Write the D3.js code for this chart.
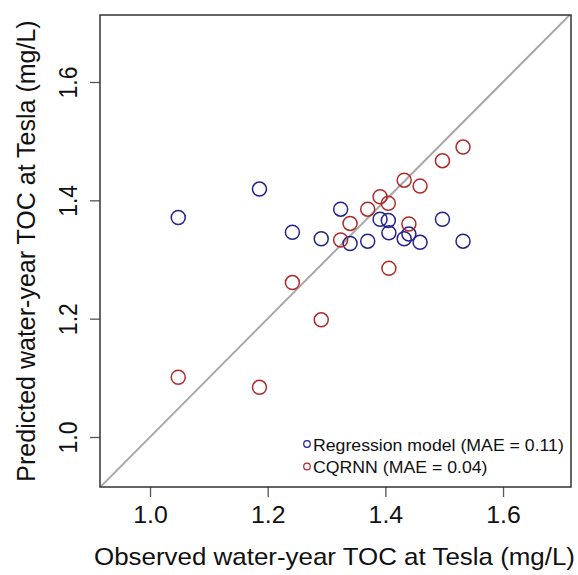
<!DOCTYPE html>
<html>
<head>
<meta charset="utf-8">
<script src="https://cdn.jsdelivr.net/npm/d3@7"></script>
<style>
  body { margin: 0; background: #fff; }
  text { font-family: "Liberation Sans", Arial, sans-serif; fill: #111; }
</style>
</head>
<body>
<div id="chart"></div>
<script>
// observed water-year TOC (shared by both models)
var observed = [1.048, 1.186, 1.242, 1.291, 1.324, 1.340, 1.370, 1.391, 1.405, 1.406, 1.432, 1.440, 1.459, 1.497, 1.532];
// predictions
var regression = [1.371, 1.419, 1.346, 1.335, 1.385, 1.327, 1.331, 1.368, 1.366, 1.345, 1.335, 1.343, 1.329, 1.368, 1.331];
var cqrnn = [1.101, 1.084, 1.261, 1.198, 1.333, 1.361, 1.385, 1.406, 1.395, 1.285, 1.434, 1.360, 1.424, 1.467, 1.490];
var xTicks = [1.0, 1.2, 1.4, 1.6];
var yTicks = [1.0, 1.2, 1.4, 1.6];
var legendLabels = ["Regression model (MAE = 0.11)", "CQRNN (MAE = 0.04)"];
var colors = ["#22228f", "#b02a2a"];

var margin = { top: 15, right: 7, bottom: 88, left: 100 },
  width = 578 - margin.left - margin.right,
  height = 575 - margin.top - margin.bottom;

var svg = d3
  .select("#chart")
  .append("svg")
  .attr("width", 578)
  .attr("height", 575)
  .append("g")
  .attr("transform", "translate(" + margin.left + "," + margin.top + ")");

var x = d3.scaleLinear().domain([0.915, 1.7155]).range([0, width]);
var y = d3.scaleLinear().domain([0.9155, 1.7132]).range([height, 0]);

svg.append("clipPath").attr("id", "clip")
  .append("rect").attr("width", width).attr("height", height);

// 1:1 line
svg.append("line")
  .attr("clip-path", "url(#clip)")
  .attr("x1", x(0.9)).attr("y1", y(0.9))
  .attr("x2", x(1.75)).attr("y2", y(1.75))
  .style("stroke", "#a8a8a8")
  .style("stroke-width", 2);

// x axis
var xAxis = svg.append("g")
  .attr("transform", "translate(0," + height + ")")
  .call(d3.axisBottom(x).tickValues(xTicks).tickSize(10).tickPadding(0).tickFormat(d3.format(".1f")));
xAxis.select(".domain").remove();
xAxis.selectAll("line").style("stroke", "#555").style("stroke-width", 1.3);
xAxis.selectAll("text")
  .attr("y", 0)
  .attr("transform", "translate(0,36) scale(1.08,1)")
  .style("font-size", "23px")
  .style("fill", "#111")
  .attr("dy", null);

// y axis
var yAxis = svg.append("g")
  .call(d3.axisLeft(y).tickValues(yTicks).tickSize(10).tickPadding(0).tickFormat(d3.format(".1f")));
yAxis.select(".domain").remove();
yAxis.selectAll("line").style("stroke", "#555").style("stroke-width", 1.3);
yAxis.selectAll("text")
  .attr("x", 0)
  .attr("dy", null)
  .attr("transform", "translate(-23,0) rotate(-90) scale(1,1.12)")
  .style("text-anchor", "middle")
  .style("font-size", "23px")
  .style("fill", "#111");

// box
svg.append("rect")
  .attr("width", width)
  .attr("height", height)
  .style("fill", "none")
  .style("stroke", "#333")
  .style("stroke-width", 1.5);

// points
var series = [regression, cqrnn];
series.forEach(function (vals, i) {
  svg.append("g")
    .selectAll("circle")
    .data(vals)
    .enter()
    .append("circle")
    .attr("cx", function (d, j) { return x(observed[j]); })
    .attr("cy", function (d) { return y(d); })
    .attr("r", 7)
    .style("fill", "none")
    .style("stroke", colors[i])
    .style("stroke-width", 1.5);
});

// axis titles
svg.append("text")
  .attr("transform", "translate(" + (width / 2 - 1) + "," + (height + 78) + ") scale(1.08,1)")
  .style("text-anchor", "middle")
  .style("font-size", "24px")
  .text("Observed water-year TOC at Tesla (mg/L)");

svg.append("text")
  .attr("transform", "translate(" + (35 - margin.left) + "," + (height / 2) + ") rotate(-90)")
  .style("text-anchor", "middle")
  .style("font-size", "25px")
  .text("Predicted water-year TOC at Tesla (mg/L)");

// legend
var legend = svg.append("g")
  .attr("transform", "translate(" + (307 - margin.left) + "," + (444 - margin.top) + ")");
legendLabels.forEach(function (lab, i) {
  legend.append("circle")
    .attr("cx", 0)
    .attr("cy", i * 22.5)
    .attr("r", 3.3)
    .style("fill", "none")
    .style("stroke", colors[i])
    .style("stroke-width", 1.2);
  legend.append("text")
    .attr("transform", "translate(6," + (i * 22.5 + 6.5) + ") scale(1.12,1)")
    .style("font-size", "15.8px")
    .text(lab);
});
</script>
</body>
</html>
